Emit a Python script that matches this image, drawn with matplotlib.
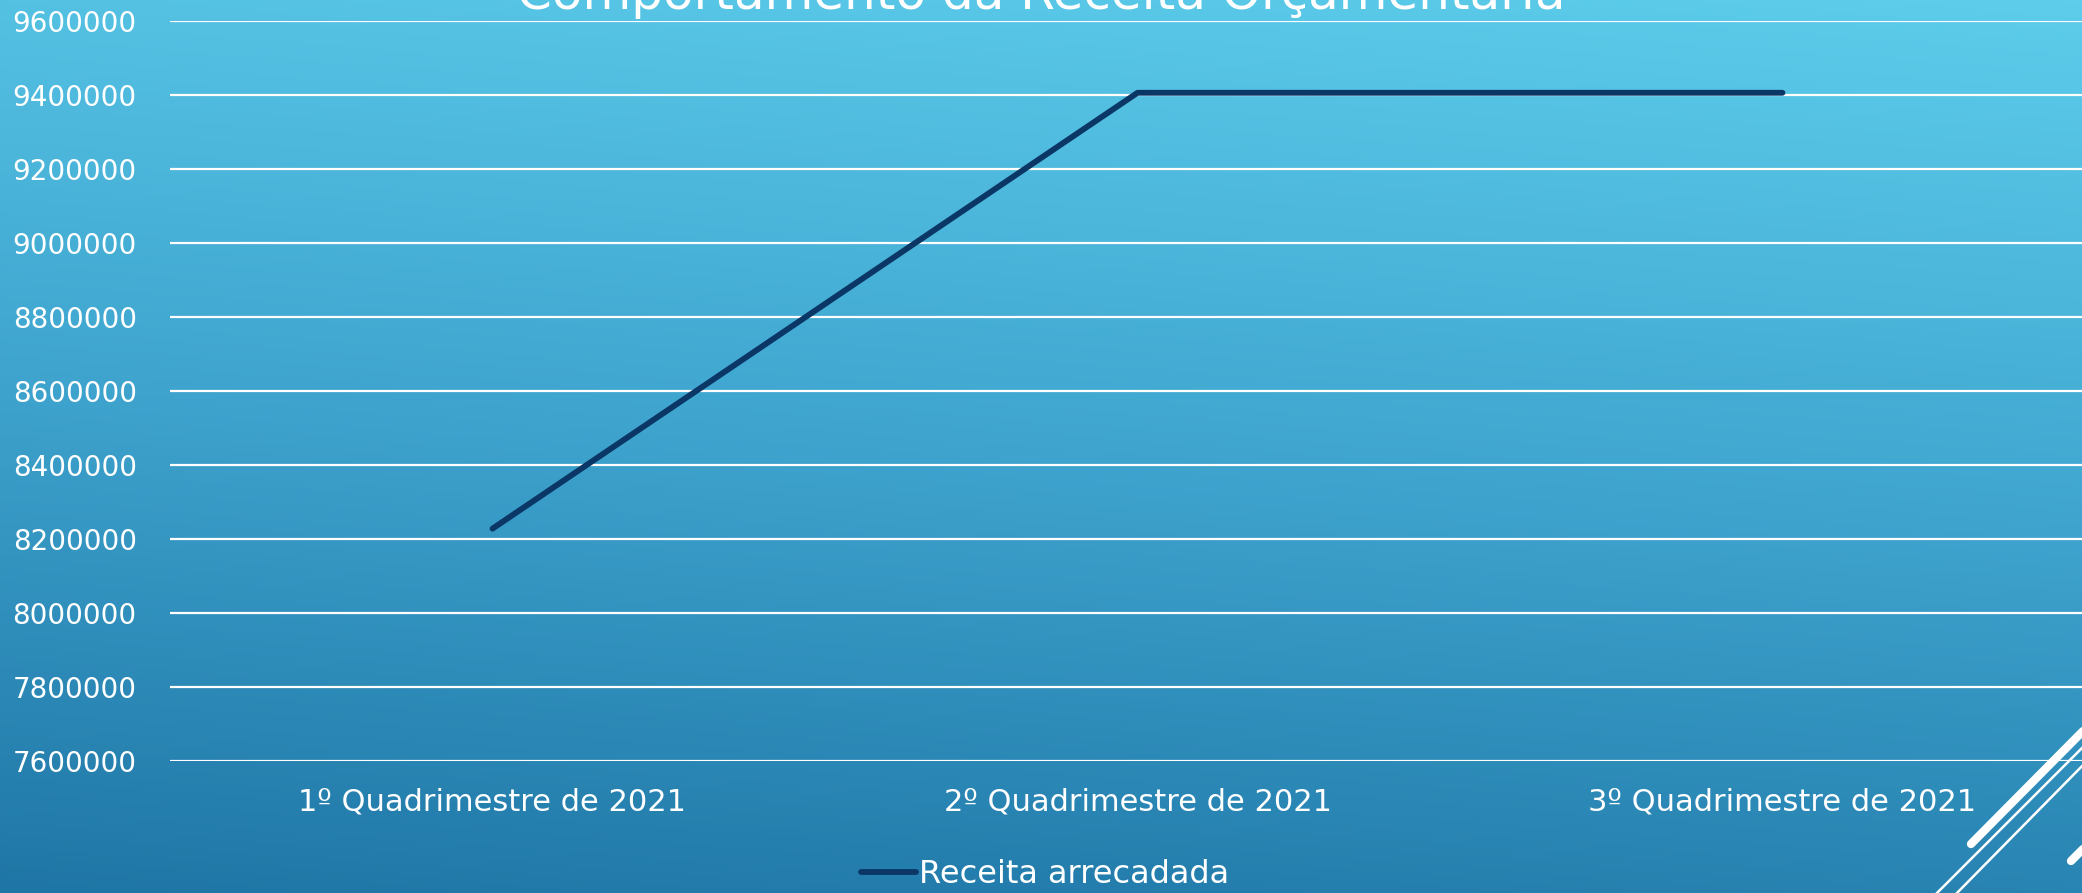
import matplotlib.pyplot as plt
import numpy as np
from matplotlib.colors import LinearSegmentedColormap
from matplotlib.lines import Line2D

categorias = ['1º Quadrimestre de 2021', '2º Quadrimestre de 2021', '3º Quadrimestre de 2021']
receita = [8228000, 9406000, 9406000]
serie = 'Receita arrecadada'
titulo = 'Comportamento da Receita Orçamentária'
yticks = list(range(7600000, 9600001, 200000))

plt.rcParams['font.family'] = 'DejaVu Sans'

fig = plt.figure(figsize=(20.82, 8.93), dpi=100)

# fundo em gradiente (tema do slide)
bg = fig.add_axes([0, 0, 1, 1], zorder=-10)
yy, xx = np.mgrid[0:1:300j, 0:1:600j]
t = 0.85 * yy + 0.15 * (1 - xx)
cmap = LinearSegmentedColormap.from_list('bg', ['#5dcdeb', '#3fa5cf', '#1f76a6'])
bg.imshow(t, cmap=cmap, aspect='auto', extent=[0, 1, 0, 1], origin='upper', vmin=0, vmax=1)
bg.set_xlim(0, 1)
bg.set_ylim(0, 1)
bg.axis('off')

# linhas decorativas no canto
W, H = 2082, 893
def deco(x0, y0, x1, y1, lw):
    bg.add_line(Line2D([x0 / W, x1 / W], [1 - y0 / H, 1 - y1 / H], color='white',
                       lw=lw, solid_capstyle='round'))
deco(1971, 844, 2090, 724, 6)
deco(1935, 895, 2090, 740, 1.8)
deco(1955, 895, 2090, 758, 1.8)
deco(2071, 861, 2090, 842, 6)

ax = fig.add_axes([170 / W, 132 / H, 1935 / W, 740 / H])
ax.patch.set_alpha(0)
x = np.arange(len(categorias))
ax.plot(x, receita, color='#0b3767', lw=4.2, label=serie, solid_capstyle='round', zorder=3)
ax.set_xlim(-0.5, 2.5)
ax.set_ylim(7600000, 9600000)
ax.set_yticks(yticks)
ax.set_yticklabels([str(v) for v in yticks])
ax.set_xticks(x)
ax.set_xticklabels(categorias)
ax.yaxis.grid(True, color='white', lw=1.6)
ax.set_axisbelow(True)
for s in ax.spines.values():
    s.set_visible(False)
ax.tick_params(axis='both', length=0, colors='white')
ax.tick_params(axis='y', pad=24, labelsize=20)
ax.tick_params(axis='x', pad=19, labelsize=22)

fig.text(0.5, 0.99, titulo, ha='center', va='baseline', color='white', fontsize=36)

fig.legend(loc='center', bbox_to_anchor=(0.502, 0.021), frameon=False, fontsize=23,
           labelcolor='white', handlelength=1.7, handletextpad=0.1,
           borderpad=0.1)

fig.savefig('out.png', dpi=100)
